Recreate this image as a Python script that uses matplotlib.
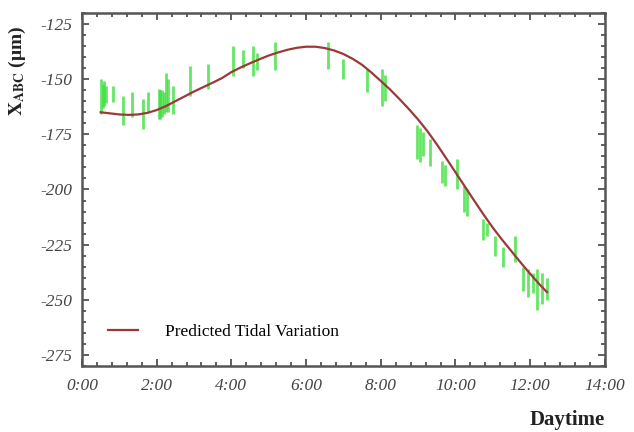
import matplotlib.pyplot as plt
from matplotlib.ticker import MultipleLocator, FixedLocator

plt.rcParams['font.family'] = ['Liberation Serif', 'DejaVu Serif']
plt.rcParams['mathtext.fontset'] = 'stix'

# predicted tidal variation (hours, um)
pred_time = [0.5, 0.75, 1.0, 1.25, 1.5, 1.75, 2.0, 2.25, 2.5, 2.75, 3.0, 3.25,
             3.5, 3.75, 4.0, 4.25, 4.5, 4.75, 5.0, 5.25, 5.5, 5.75, 6.0, 6.25,
             6.5, 6.75, 7.0, 7.25, 7.5, 7.75, 8.0, 8.25, 8.5, 8.75, 9.0, 9.25,
             9.5, 9.75, 10.0, 10.25, 10.5, 10.75, 11.0, 11.25, 11.5, 11.75,
             12.0, 12.25, 12.45]
pred_x = [-165, -165.5, -166, -166.2, -166, -165.3, -164, -162.2, -160, -157.8,
          -155.6, -153.6, -151.6, -149.5, -146.8, -144.7, -142.8, -141, -139.3,
          -137.9, -136.7, -135.8, -135.3, -135.3, -135.9, -137, -138.6, -140.8,
          -143.5, -147, -150.8, -154.7, -159, -163.5, -168.3, -173.6, -179.5,
          -185.8, -192.2, -198.6, -205, -211.3, -217.3, -222.8, -228, -233.2,
          -238.2, -243, -246.5]

# measured values, vertical spread (low / high)
meas_time = [0.52, 0.56, 0.60, 0.64, 0.83, 1.10, 1.34, 1.63, 1.77, 2.05, 2.10,
             2.15, 2.20, 2.25, 2.30, 2.44, 2.89, 3.37, 4.04, 4.31, 4.58, 4.68,
             5.17, 6.58, 6.99, 7.63, 8.03, 8.11, 8.96, 9.05, 9.12, 9.32, 9.64,
             9.72, 10.04, 10.22, 10.31, 10.73, 10.84, 11.05, 11.27, 11.59,
             11.80, 11.94, 12.07, 12.18, 12.31, 12.45]
meas_low = [-166, -163, -162, -161, -160.5, -171, -167, -172.7, -165, -168,
            -168, -167, -166, -165, -165, -166, -157.7, -154.5, -148.6, -145,
            -148.6, -146, -146, -145.5, -150, -156, -162, -160, -186, -187.7,
            -185, -189.5, -197, -198.6, -200, -210, -212, -222.7, -221, -230,
            -235, -233, -246, -248.6, -247, -254.5, -252, -250]
meas_high = [-150, -152, -151, -153, -153, -157.7, -156, -159, -156, -154.5,
             -155, -155, -156, -147, -150, -153, -144, -143, -135, -137, -135,
             -138, -133, -133, -141, -145.5, -145.5, -148, -171, -172, -174,
             -177, -187, -189, -186, -198.6, -200, -213.6, -215, -221, -226,
             -221, -235, -236, -238, -236, -238, -240]

xtick_vals = [0, 2, 4, 6, 8, 10, 12, 14]
xtick_labels = ['0:00', '2:00', '4:00', '6:00', '8:00', '10:00', '12:00', '14:00']
ytick_vals = [-275, -250, -225, -200, -175, -150, -125]

fig = plt.figure(figsize=(6.34, 4.32), dpi=100)
ax = fig.add_axes([0.1293, 0.1528, 0.8247, 0.8172])

ax.vlines(meas_time, meas_low, meas_high, color='#3ee03e', lw=2.0, alpha=0.8)
ax.plot(pred_time, pred_x, color='#9c3838', lw=1.6, label='Predicted Tidal Variation')

ax.set_xlim(0, 14)
ax.set_ylim(-280, -120)
ax.xaxis.set_major_locator(FixedLocator(xtick_vals))
ax.set_xticklabels(xtick_labels, fontstyle='italic', fontsize=12.5, color='#444444')
ax.xaxis.set_minor_locator(MultipleLocator(0.4))
ax.yaxis.set_major_locator(FixedLocator(ytick_vals))
ax.set_yticklabels([str(v) for v in ytick_vals], fontstyle='italic', fontsize=12.5,
                   color='#444444')
ax.yaxis.set_minor_locator(MultipleLocator(5))

ax.tick_params(which='both', direction='in', top=True, right=True,
               color='#444444', width=1.2)
ax.tick_params(which='major', length=5)
ax.tick_params(which='minor', length=3)
ax.tick_params(axis='x', which='major', pad=9)
ax.tick_params(axis='y', which='major', pad=7)
for s in ax.spines.values():
    s.set_color('#555555')
    s.set_linewidth(1.8)

ax.set_ylabel(r'$\mathbf{X_{ABC}}$ (μm)', fontsize=14, fontweight='bold',
              color='#222222')
ax.yaxis.set_label_coords(-0.103, 0.835)
fig.text(0.895, 0.027, 'Daytime', fontsize=15, fontweight='bold', ha='center',
         va='center', color='#222222')

ax.legend(loc='lower left', bbox_to_anchor=(0.02, 0.03), frameon=False,
          handlelength=1.7, handletextpad=1.6, fontsize=12.5)

fig.savefig('out.png', dpi=100)
